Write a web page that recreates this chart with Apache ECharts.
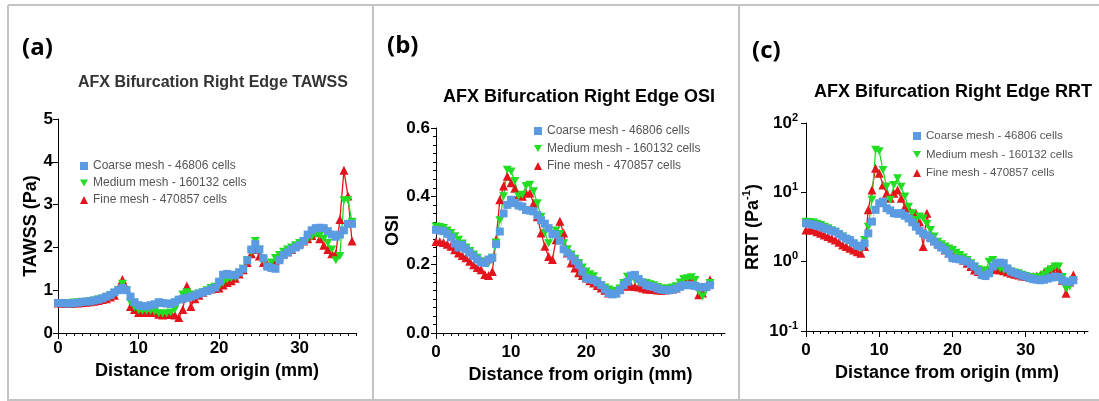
<!DOCTYPE html>
<html>
<head>
<meta charset="utf-8">
<script src="https://cdn.jsdelivr.net/npm/echarts@6/dist/echarts.min.js"></script>
<style>
html, body { margin: 0; padding: 0; background: #ffffff; }
#chart { width: 1099px; height: 401px; }
</style>
</head>
<body>
<div id="chart"></div>
<script>
// Sample positions along the right edge (mm)
const distance = [
  0, 0.5, 1, 1.5, 2, 2.5, 3, 3.5, 4, 4.5,
  5, 5.5, 6, 6.5, 7, 7.5, 8, 8.5, 9, 9.5,
  10, 10.5, 11, 11.5, 12, 12.5, 13, 13.5, 14, 14.5,
  15, 15.5, 16, 16.5, 17, 17.5, 18, 18.5, 19, 19.5,
  20, 20.5, 21, 21.5, 22, 22.5, 23, 23.5, 24, 24.5,
  25, 25.5, 26, 26.5, 27, 27.5, 28, 28.5, 29, 29.5,
  30, 30.5, 31, 31.5, 32, 32.5, 33, 33.5, 34, 34.5,
  35, 35.5, 36, 36.5
];

const meshNames = [
  'Coarse mesh - 46806 cells',
  'Medium mesh - 160132 cells',
  'Fine mesh - 470857 cells'
];

// TAWSS (Pa)
const tawssCoarse = [
  0.70, 0.70, 0.69, 0.69, 0.70, 0.71, 0.73, 0.73, 0.74, 0.76,
  0.78, 0.81, 0.85, 0.89, 0.95, 1.00, 1.05, 1.00, 0.85, 0.72,
  0.65, 0.63, 0.62, 0.65, 0.67, 0.72, 0.70, 0.69, 0.68, 0.72,
  0.78, 0.80, 0.82, 0.85, 0.88, 0.92, 0.95, 0.98, 1.02, 1.06,
  1.20, 1.36, 1.38, 1.36, 1.35, 1.42, 1.50, 1.70, 1.95, 2.08,
  1.95, 1.75, 1.55, 1.52, 1.50, 1.70, 1.82, 1.88, 1.95, 2.00,
  2.05, 2.15, 2.30, 2.40, 2.45, 2.46, 2.45, 2.38, 2.30, 2.25,
  2.30, 2.40, 2.55, 2.55
];
const tawssMedium = [
  0.70, 0.70, 0.70, 0.70, 0.71, 0.71, 0.72, 0.73, 0.75, 0.76,
  0.78, 0.80, 0.83, 0.87, 0.92, 1.00, 1.15, 1.00, 0.72, 0.60,
  0.53, 0.52, 0.52, 0.52, 0.50, 0.46, 0.45, 0.46, 0.48, 0.55,
  0.75, 0.90, 0.95, 0.90, 0.88, 0.92, 0.95, 1.00, 1.05, 1.08,
  1.10, 1.18, 1.25, 1.28, 1.30, 1.40, 1.50, 1.70, 1.90, 2.15,
  1.95, 1.70, 1.55, 1.65, 1.75, 1.82, 1.90, 1.95, 2.00, 2.05,
  2.10, 2.15, 2.20, 2.25, 2.30, 2.28, 2.20, 2.10, 1.95, 1.70,
  1.80, 3.10, 3.10, 2.60
];
const tawssFine = [
  0.70, 0.70, 0.69, 0.69, 0.70, 0.70, 0.71, 0.72, 0.73, 0.74,
  0.76, 0.78, 0.80, 0.84, 0.88, 1.05, 1.25, 1.05, 0.62, 0.55,
  0.48, 0.48, 0.48, 0.50, 0.48, 0.44, 0.42, 0.43, 0.45, 0.42,
  0.36, 0.55, 1.10, 0.62, 0.80, 0.88, 0.95, 1.00, 1.03, 1.04,
  1.05, 1.12, 1.18, 1.22, 1.28, 1.38, 1.48, 1.65, 1.85, 1.95,
  1.80, 1.65, 1.60, 1.62, 1.70, 1.78, 1.85, 1.90, 1.95, 2.02,
  2.10, 2.15, 2.20, 2.28, 2.35, 2.20, 2.05, 1.95, 1.85, 1.85,
  2.65, 3.80, 3.20, 2.15
];

// OSI
const osiCoarse = [
  0.302, 0.300, 0.298, 0.290, 0.280, 0.262, 0.250, 0.258, 0.245, 0.235,
  0.225, 0.215, 0.207, 0.205, 0.215, 0.220, 0.260, 0.297, 0.350, 0.375,
  0.390, 0.380, 0.373, 0.370, 0.360, 0.358, 0.356, 0.345, 0.330, 0.320,
  0.307, 0.290, 0.288, 0.270, 0.245, 0.235, 0.225, 0.212, 0.200, 0.180,
  0.160, 0.157, 0.155, 0.148, 0.140, 0.128, 0.117, 0.113, 0.115, 0.125,
  0.140, 0.150, 0.168, 0.170, 0.158, 0.148, 0.140, 0.137, 0.135, 0.130,
  0.127, 0.126, 0.125, 0.127, 0.130, 0.135, 0.140, 0.140, 0.140, 0.138,
  0.135, 0.133, 0.135, 0.140
];
const osiMedium = [
  0.312, 0.310, 0.307, 0.300, 0.293, 0.283, 0.273, 0.262, 0.250, 0.240,
  0.230, 0.220, 0.210, 0.207, 0.205, 0.220, 0.265, 0.330, 0.400, 0.478,
  0.473, 0.445, 0.400, 0.405, 0.430, 0.434, 0.415, 0.380, 0.340, 0.293,
  0.263, 0.290, 0.300, 0.290, 0.263, 0.245, 0.230, 0.217, 0.205, 0.192,
  0.180, 0.172, 0.166, 0.152, 0.140, 0.133, 0.127, 0.124, 0.122, 0.130,
  0.146, 0.165, 0.160, 0.155, 0.150, 0.148, 0.146, 0.143, 0.140, 0.135,
  0.130, 0.130, 0.130, 0.133, 0.137, 0.148, 0.158, 0.160, 0.163, 0.155,
  0.122, 0.107, 0.127, 0.146
];
const osiFine = [
  0.268, 0.267, 0.265, 0.260, 0.254, 0.244, 0.234, 0.227, 0.220, 0.210,
  0.200, 0.192, 0.185, 0.171, 0.168, 0.180, 0.273, 0.390, 0.430, 0.459,
  0.440, 0.424, 0.405, 0.400, 0.410, 0.410, 0.380, 0.340, 0.293, 0.254,
  0.224, 0.215, 0.273, 0.327, 0.293, 0.234, 0.205, 0.190, 0.176, 0.168,
  0.161, 0.153, 0.146, 0.139, 0.132, 0.125, 0.117, 0.118, 0.120, 0.128,
  0.137, 0.141, 0.137, 0.136, 0.135, 0.132, 0.129, 0.128, 0.127, 0.126,
  0.125, 0.126, 0.127, 0.129, 0.132, 0.140, 0.151, 0.154, 0.156, 0.146,
  0.112, 0.117, 0.137, 0.156
];

// RRT (1/Pa)
const rrtCoarse = [
  3.58, 3.50, 3.40, 3.30, 3.20, 3.05, 2.93, 2.80, 2.70, 2.50,
  2.30, 2.15, 2.05, 1.85, 1.70, 1.65, 1.84, 2.56, 3.78, 5.60,
  6.95, 7.35, 5.90, 5.50, 5.00, 4.90, 5.00, 4.60, 4.20, 3.70,
  3.20, 2.80, 2.56, 2.40, 2.17, 1.95, 1.74, 1.60, 1.47, 1.30,
  1.12, 1.10, 1.08, 1.04, 1.00, 0.92, 0.85, 0.74, 0.64, 0.62,
  0.68, 0.85, 0.95, 0.97, 0.95, 0.80, 0.72, 0.69, 0.66, 0.63,
  0.61, 0.58, 0.56, 0.55, 0.54, 0.55, 0.57, 0.59, 0.61, 0.60,
  0.54, 0.52, 0.51, 0.54
];
const rrtMedium = [
  3.78, 3.72, 3.66, 3.52, 3.39, 3.20, 3.03, 2.85, 2.71, 2.50,
  2.30, 2.10, 1.94, 1.80, 1.65, 1.56, 2.06, 3.20, 7.80, 41.0,
  39.0, 21.0, 12.1, 7.80, 12.8, 16.0, 12.0, 8.70, 6.20, 5.00,
  4.00, 4.50, 4.20, 3.50, 2.87, 2.30, 1.94, 1.78, 1.65, 1.55,
  1.47, 1.35, 1.25, 1.15, 1.06, 0.95, 0.85, 0.78, 0.72, 0.75,
  1.00, 1.06, 0.85, 0.80, 0.76, 0.74, 0.72, 0.70, 0.68, 0.65,
  0.62, 0.60, 0.59, 0.59, 0.60, 0.65, 0.72, 0.78, 0.85, 0.85,
  0.60, 0.41, 0.44, 0.54
];
const rrtFine = [
  2.87, 2.87, 2.87, 2.70, 2.56, 2.43, 2.30, 2.18, 2.06, 1.90,
  1.74, 1.65, 1.56, 1.47, 1.39, 1.32, 1.65, 5.60, 10.8, 22.3,
  18.9, 12.8, 9.70, 8.20, 9.70, 10.8, 8.20, 6.20, 5.90, 5.00,
  5.00, 3.78, 1.65, 5.00, 2.30, 2.00, 1.84, 1.65, 1.47, 1.35,
  1.25, 1.21, 1.18, 1.05, 0.95, 0.85, 0.76, 0.72, 0.68, 0.70,
  0.76, 0.85, 0.77, 0.76, 0.74, 0.71, 0.68, 0.66, 0.64, 0.62,
  0.61, 0.61, 0.61, 0.62, 0.64, 0.70, 0.76, 0.80, 0.85, 0.76,
  0.54, 0.35, 0.51, 0.64
];

const xMajorTicks = [0, 10, 20, 30];
const panelTags = ['(a)', '(b)', '(c)'];
const panelTitles = [
  'AFX Bifurcation Right Edge TAWSS',
  'AFX Bifurcation Right Edge OSI',
  'AFX Bifurcation Right Edge RRT'
];
const xName = 'Distance from origin (mm)';

const FONT = '"Liberation Sans", Arial, sans-serif';
const COLORS = { coarse: '#5b9be2', medium: '#22dd22', fine: '#e3141c' };
const DOWN_TRI = 'path://M0,0L10,0L5,9Z';

function pairs(values) {
  return distance.map((d, i) => [d, values[i]]);
}

function oneMmTicks(max) {
  const t = [];
  for (let v = 0; v <= max; v += 1) t.push(v);
  return t;
}

// Two x axes per grid: the labelled one with 1 mm ticks, and an overlay with longer 10 mm ticks
function xAxes(gridIndex, max, labelMargin, nameGap) {
  const line = { color: '#000', width: 1 };
  return [
    {
      type: 'value', gridIndex, min: 0, max, position: 'bottom',
      axisLine: { show: true, lineStyle: line },
      axisTick: { show: true, length: 3, customValues: oneMmTicks(max), lineStyle: line },
      axisLabel: {
        customValues: xMajorTicks, margin: labelMargin,
        fontSize: 17, fontWeight: 'bold', color: '#000', fontFamily: FONT
      },
      splitLine: { show: false },
      name: xName, nameLocation: 'middle', nameGap,
      nameTextStyle: { fontSize: 18, fontWeight: 'bold', color: '#000', fontFamily: FONT }
    },
    {
      type: 'value', gridIndex, min: 0, max, position: 'bottom',
      axisLine: { show: false },
      axisTick: { show: true, length: 6, customValues: xMajorTicks, lineStyle: line },
      axisLabel: { show: false },
      splitLine: { show: false }
    }
  ];
}

const tickFont = { fontSize: 17, fontWeight: 'bold', color: '#000', fontFamily: FONT };
const nameFont = { fontSize: 18, fontWeight: 'bold', color: '#000', fontFamily: FONT };
const axisLine = { show: true, lineStyle: { color: '#000', width: 1 } };
const supStyle = { fontSize: 11, fontWeight: 'bold', color: '#000', fontFamily: FONT, verticalAlign: 'top', lineHeight: 11 };

const yAxes = [
  {
    type: 'value', gridIndex: 0, min: 0, max: 5, interval: 1,
    axisLine, axisTick: { show: true, length: 5, lineStyle: { color: '#000' } },
    axisLabel: Object.assign({ margin: 5 }, tickFont),
    splitLine: { show: false },
    name: 'TAWSS (Pa)', nameLocation: 'middle', nameGap: 16, nameRotate: 90,
    nameTextStyle: nameFont
  },
  {
    type: 'value', gridIndex: 1, min: 0, max: 0.6, interval: 0.2,
    axisLine, axisTick: { show: true, length: 5, lineStyle: { color: '#000' } },
    minorTick: { show: true, splitNumber: 8, length: 3, lineStyle: { color: '#000' } },
    axisLabel: Object.assign({ margin: 6, formatter: v => v.toFixed(1) }, tickFont),
    splitLine: { show: false }, minorSplitLine: { show: false },
    name: 'OSI', nameLocation: 'middle', nameGap: 32, nameRotate: 90,
    nameTextStyle: nameFont
  },
  {
    type: 'log', logBase: 10, gridIndex: 2, min: 0.1, max: 100,
    axisLine, axisTick: { show: true, length: 5, lineStyle: { color: '#000' } },
    axisLabel: Object.assign({
      margin: 8, lineHeight: 22,
      formatter: v => '10{s|' + Math.round(Math.log10(v)) + '}',
      rich: { s: supStyle }
    }, tickFont),
    splitLine: { show: false },
    name: 'RRT (Pa{s|-1})', nameLocation: 'middle', nameGap: 40, nameRotate: 90,
    nameTextStyle: Object.assign({ lineHeight: 24, rich: { s: supStyle } }, nameFont)
  }
];

function meshSeries(panel, coarse, medium, fine) {
  const xi = panel * 2;
  return [
    {
      name: meshNames[2], type: 'line', xAxisIndex: xi, yAxisIndex: panel,
      data: pairs(fine), symbol: 'triangle', symbolSize: 9,
      itemStyle: { color: COLORS.fine },
      lineStyle: { color: COLORS.fine, width: 1.3 }
    },
    {
      name: meshNames[1], type: 'line', xAxisIndex: xi, yAxisIndex: panel,
      data: pairs(medium), symbol: DOWN_TRI, symbolSize: [9, 8],
      itemStyle: { color: COLORS.medium },
      lineStyle: { color: COLORS.medium, width: 1.3 }
    },
    {
      name: meshNames[0], type: 'line', xAxisIndex: xi, yAxisIndex: panel,
      data: pairs(coarse), symbol: 'rect', symbolSize: 8,
      itemStyle: { color: COLORS.coarse },
      lineStyle: { color: '#7c98c0', width: 1, type: 'dotted' }
    }
  ];
}

function legendAt(left, top, gap, fontSize) {
  return {
    left, top, orient: 'vertical', padding: 0, itemGap: gap,
    itemWidth: 8, itemHeight: 8, selectedMode: false,
    textStyle: { fontSize, color: '#555', fontFamily: FONT, lineHeight: 14 },
    data: [
      { name: meshNames[0], icon: 'rect' },
      { name: meshNames[1], icon: DOWN_TRI },
      { name: meshNames[2], icon: 'triangle' }
    ]
  };
}

const border = { stroke: '#c3c3c3', lineWidth: 2 };
function rule(x1, y1, x2, y2) {
  return { type: 'line', silent: true, shape: { x1, y1, x2, y2 }, style: border };
}
function tag(text, x, y) {
  return {
    type: 'text', left: x, top: y, silent: true,
    style: { text, fontSize: 24, fontWeight: 'bold', fill: '#000', fontFamily: '"Open Sans", sans-serif' }
  };
}

const option = {
  animation: false,
  backgroundColor: '#ffffff',
  title: [
    { text: panelTitles[0], left: 78, top: 73, padding: 0,
      textStyle: { fontSize: 16, fontWeight: 'bold', color: '#333', fontFamily: FONT, lineHeight: 20 } },
    { text: panelTitles[1], left: 443, top: 86, padding: 0,
      textStyle: { fontSize: 18, fontWeight: 'bold', color: '#000', fontFamily: FONT, lineHeight: 22 } },
    { text: panelTitles[2], left: 814, top: 81, padding: 0,
      textStyle: { fontSize: 18, fontWeight: 'bold', color: '#000', fontFamily: FONT, lineHeight: 22 } }
  ],
  legend: [
    legendAt(80, 159, 3, 12),
    legendAt(534, 124, 3.5, 12),
    legendAt(913, 129, 4.5, 11.5)
  ],
  grid: [
    { left: 58, top: 119, width: 298, height: 214 },
    { left: 436, top: 128, width: 289, height: 205 },
    { left: 806, top: 123, width: 282, height: 208 }
  ],
  xAxis: [].concat(xAxes(0, 37, 7, 27), xAxes(1, 38.5, 11, 31), xAxes(2, 38.5, 11, 30)),
  yAxis: yAxes,
  series: [].concat(
    meshSeries(0, tawssCoarse, tawssMedium, tawssFine),
    meshSeries(1, osiCoarse, osiMedium, osiFine),
    meshSeries(2, rrtCoarse, rrtMedium, rrtFine)
  ),
  graphic: [
    rule(8, 5, 1099, 5),
    rule(8, 5, 8, 401),
    rule(373, 5, 373, 401),
    rule(739, 5, 739, 401),
    rule(8, 400, 1099, 400),
    tag(panelTags[0], 22, 36),
    tag(panelTags[1], 387, 34),
    tag(panelTags[2], 752, 39)
  ]
};

const chart = echarts.init(document.getElementById('chart'), null, { renderer: 'canvas' });
chart.setOption(option);
</script>
</body>
</html>
